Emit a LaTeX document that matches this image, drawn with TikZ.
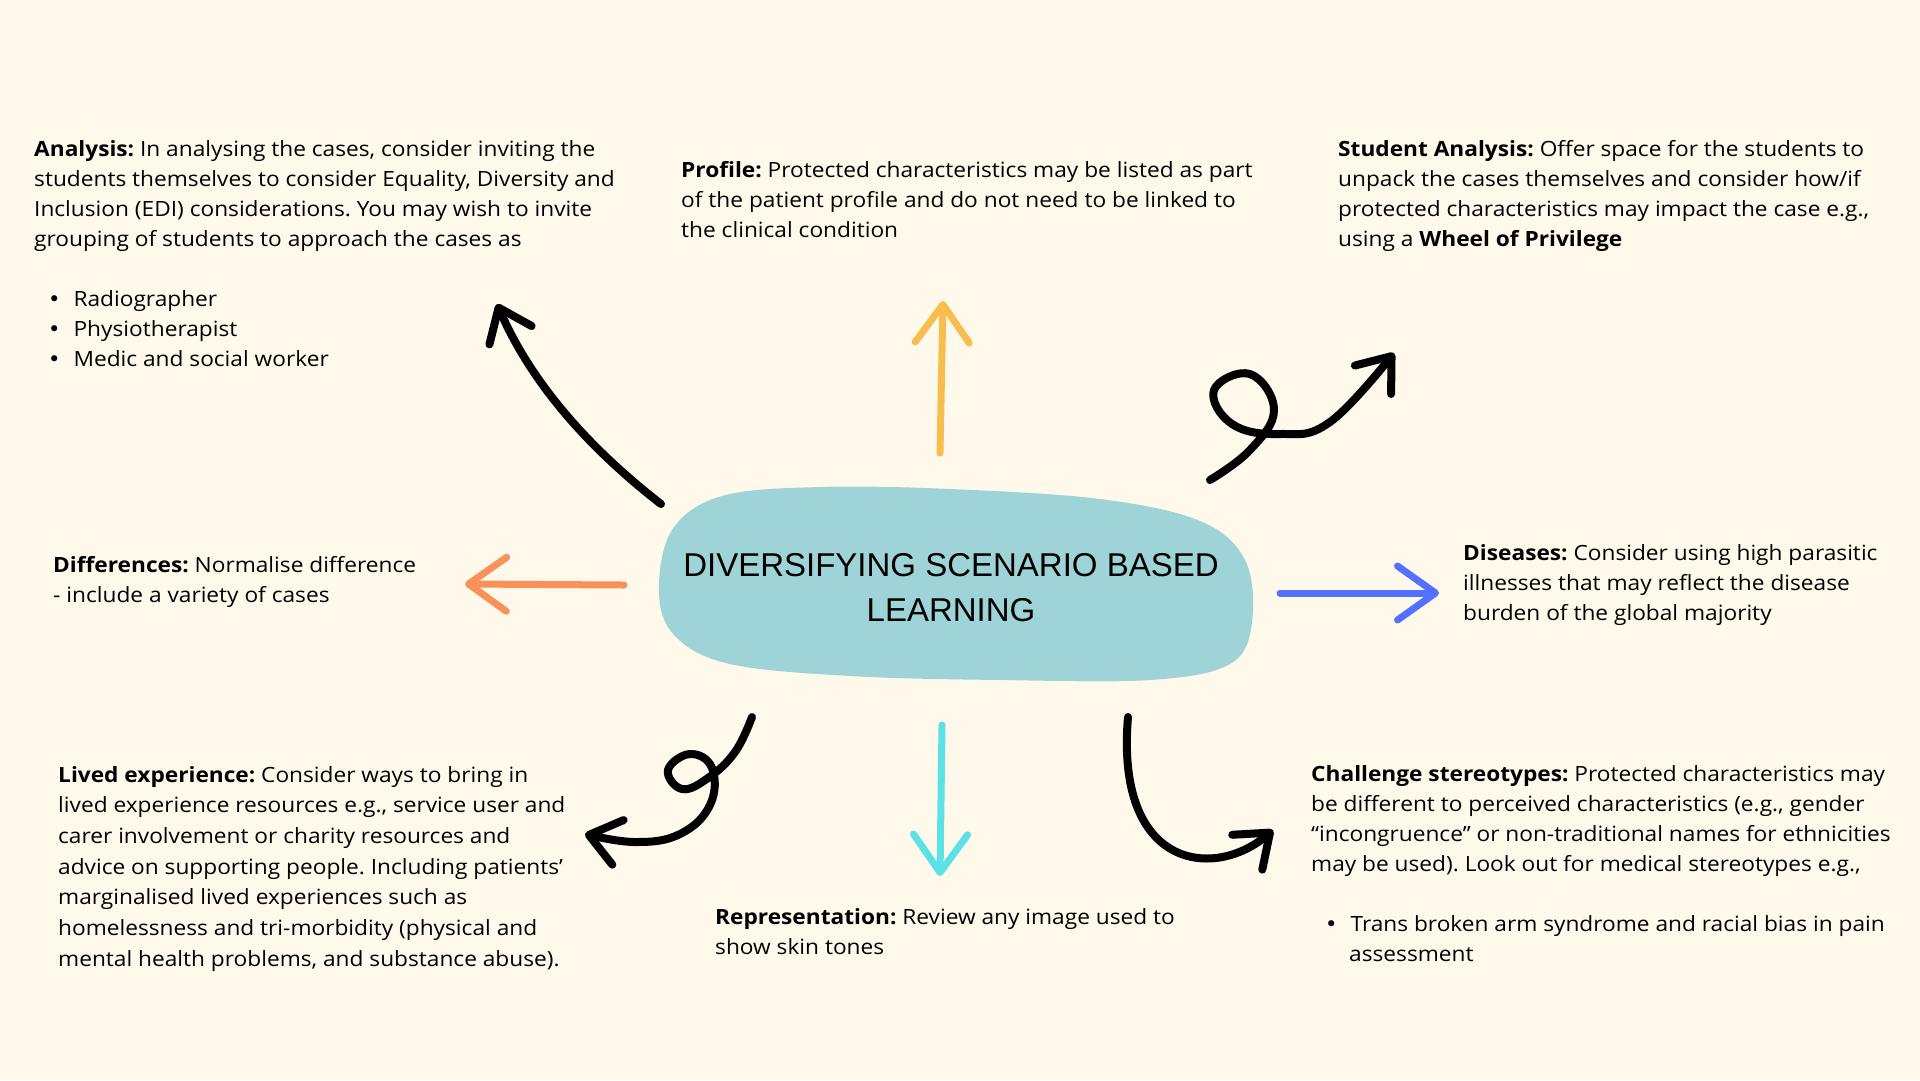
\documentclass[tikz,border=0pt]{standalone}
\usepackage{fontspec}
\setmainfont[FakeStretch=1.08]{Open Sans}
\newfontfamily\titlefont{Liberation Sans}
\newfontfamily\dotfont{DejaVu Sans}
\usetikzlibrary{arrows.meta}
\definecolor{paper}{RGB}{254,249,234}
\definecolor{blobteal}{RGB}{158,212,216}
\definecolor{sunorange}{RGB}{248,189,79}
\definecolor{coral}{RGB}{248,146,90}
\definecolor{royal}{RGB}{82,113,255}
\definecolor{aqua}{RGB}{92,225,230}
\newcommand{\bodysize}{\fontsize{21}{30}\selectfont\frenchspacing}
\newcommand{\itembullet}{\hspace*{14pt}{\dotfont\textbullet}\hspace{13pt}}
\tikzset{
  blurb/.style={anchor=north west, align=left, inner sep=0pt, font=\bodysize},
  inkarrow/.style={line width=8pt, line cap=round, line join=round,
    -{Straight Barb[length=30pt,width=46pt,round]}},
  penarrow/.style={line width=7pt, line cap=round, line join=round,
    -{Straight Barb[length=38pt,width=54pt,round]}},
}
\begin{document}
\begin{tikzpicture}[x=1pt,y=-1pt]
  \fill[paper] (0,0) rectangle (1920,1080);
  \useasboundingbox (0,0) rectangle (1920,1080);
  % central blob
  \fill[blobteal] plot[smooth cycle, tension=0.6] coordinates {
    (659,592) (672,530) (722,496) (820,487) (950,489) (1100,499)
    (1200,521) (1245,560) (1252,622) (1230,664) (1150,680)
    (1000,680) (850,676) (730,664) (675,636)};
  \node[font=\titlefont\fontsize{33}{45}\selectfont, align=center] (title) at (951,588)
    {DIVERSIFYING SCENARIO BASED\\ LEARNING};
  % text blocks
  \node[blurb] (analysis) at (34,140) {\textbf{Analysis:} In analysing the cases, consider inviting the\\
    students themselves to consider Equality, Diversity and\\
    Inclusion (EDI) considerations. You may wish to invite\\
    grouping of students to approach the cases as\\[30pt]
    \itembullet Radiographer\\
    \itembullet Physiotherapist\\
    \itembullet Medic and social worker};
  \node[blurb] (profile) at (681,161) {\textbf{Profile:} Protected characteristics may be listed as part\\
    of the patient profile and do not need to be linked to\\
    the clinical condition};
  \node[blurb] (student) at (1338,140) {\textbf{Student Analysis:} Offer space for the students to\\
    unpack the cases themselves and consider how/if\\
    protected characteristics may impact the case e.g.,\\
    using a \textbf{Wheel of Privilege}};
  \node[blurb] (differences) at (53,556) {\textbf{Differences:} Normalise difference\\
    - include a variety of cases};
  \node[blurb] (diseases) at (1463,544) {\textbf{Diseases:} Consider using high parasitic\\
    illnesses that may reflect the disease\\
    burden of the global majority};
  \node[blurb, font=\fontsize{21}{30.7}\selectfont\frenchspacing] (lived) at (58,766)
    {\textbf{Lived experience:} Consider ways to bring in\\
    lived experience resources e.g., service user and\\
    carer involvement or charity resources and\\
    advice on supporting people. Including patients'\\
    marginalised lived experiences such as\\
    homelessness and tri-morbidity (physical and\\
    mental health problems, and substance abuse).};
  \node[blurb] (representation) at (715,908) {\textbf{Representation:} Review any image used to\\
    show skin tones};
  \node[blurb] (challenge) at (1311,765) {\textbf{Challenge stereotypes:} Protected characteristics may\\
    be different to perceived characteristics (e.g., gender\\
    ``incongruence'' or non-traditional names for ethnicities\\
    may be used). Look out for medical stereotypes e.g.,\\[30pt]
    \itembullet Trans broken arm syndrome and racial bias in pain\\
    \hspace*{38pt}assessment};
  % arrow ends
  \coordinate (fromAnalysis) at (661,504);   \coordinate (toAnalysis) at (497,304);
  \coordinate (fromProfile) at (940,453);    \coordinate (toProfile) at (943,301);
  \coordinate (fromStudent) at (1210,480);   \coordinate (toStudent) at (1394,353);
  \coordinate (fromDiff) at (624,585);       \coordinate (toDiff) at (465,584);
  \coordinate (fromDisease) at (1280,593);   \coordinate (toDisease) at (1439,593);
  \coordinate (fromLived) at (752,717);      \coordinate (toLived) at (585,834);
  \coordinate (fromRep) at (942,725);        \coordinate (toRep) at (940,876);
  \coordinate (fromChallenge) at (1128,717); \coordinate (toChallenge) at (1273,830);
  % arrows
  \draw[inkarrow] (fromAnalysis) .. controls (585,445) and (530,380) .. (toAnalysis);
  \draw[penarrow, sunorange] (fromProfile) -- (toProfile);
  \draw[inkarrow] plot[smooth, tension=0.7] coordinates {(fromStudent) (1250,450) (1274,410)
    (1250,374) (1214,390) (1232,424) (1280,434) (1330,422) (toStudent)};
  \draw[penarrow, coral] (fromDiff) -- (toDiff);
  \draw[penarrow, royal] (fromDisease) -- (toDisease);
  \draw[inkarrow] plot[smooth, tension=0.7] coordinates {(fromLived) (735,752) (708,778)
    (682,789) (668,770) (690,754) (712,768) (710,805) (680,834) (635,842) (toLived)};
  \draw[penarrow, aqua] (fromRep) -- (toRep);
  \draw[inkarrow] (fromChallenge) .. controls (1115,870) and (1215,880) .. (toChallenge);
\end{tikzpicture}
\end{document}
